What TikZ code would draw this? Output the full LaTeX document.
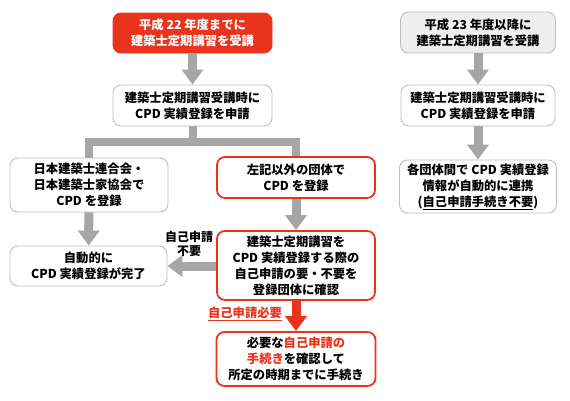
\documentclass[tikz,border=0pt]{standalone}
\usepackage{fontspec}
\setmainfont{Noto Sans CJK JP}[BoldFont={Noto Sans CJK JP Black}]
\usetikzlibrary{arrows.meta}
\definecolor{myred}{RGB}{232,52,28}
\definecolor{arrgray}{RGB}{166,166,166}
\definecolor{boxgray}{RGB}{190,190,190}
\definecolor{fillgray}{RGB}{238,238,238}
\tikzset{
  box/.style={draw=boxgray, line width=0.9pt, rounded corners=8pt, fill=white, align=center,
    font=\fontsize{12.3}{16}\selectfont\bfseries, inner sep=0pt},
  redbox/.style={box, draw=myred, line width=1.8pt},
  redfill/.style={box, draw=myred, fill=myred, text=white},
  grayfill/.style={box, fill=fillgray},
  gline/.style={draw=arrgray, line width=8pt},
  garrow/.style={draw=arrgray, line width=9pt, -{Triangle[width=21pt,length=15pt]}},
  rarrow/.style={draw=myred, line width=9pt, -{Triangle[width=21pt,length=15pt]}},
  lbl/.style={align=center, inner sep=0pt, font=\fontsize{12}{14}\selectfont\bfseries}
}
\begin{document}
\begin{tikzpicture}[x=1pt,y=-1pt]
\useasboundingbox (0,0) rectangle (570,400);
% left column
\node[redfill, minimum width=159pt, minimum height=40pt] (T1) at (192.5,33) {平成 22 年度までに\\建築士定期講習を受講};
\node[box, minimum width=159pt, minimum height=41pt] (T2) at (192.5,105.5) {建築士定期講習受講時に\\CPD 実績登録を申請};
\node[box, minimum width=158pt, minimum height=54pt] (L1) at (89,185) {日本建築士連合会・\\日本建築士家協会で\\CPD を登録};
\node[redbox, minimum width=158pt, minimum height=41pt] (R1) at (296,177.5) {左記以外の団体で\\CPD を登録};
\node[box, minimum width=157pt, minimum height=40pt] (L2) at (88.5,266) {自動的に\\CPD 実績登録が完了};
\node[redbox, minimum width=158pt, minimum height=69pt] (R2) at (296,265.5) {建築士定期講習を\\CPD 実績登録する際の\\自己申請の要・不要を\\登録団体に確認};
\node[redbox, minimum width=159pt, minimum height=54pt] (R3) at (296,359) {必要な\textcolor{myred}{自己申請の}\\\textcolor{myred}{手続き}を確認して\\所定の時期までに手続き};
% right column
\node[grayfill, minimum width=155pt, minimum height=41pt] (RT1) at (478,32.5) {平成 23 年度以降に\\建築士定期講習を受講};
\node[box, minimum width=154pt, minimum height=41pt] (RT2) at (478,105.5) {建築士定期講習受講時に\\CPD 実績登録を申請};
\node[box, minimum width=157pt, minimum height=53pt] (RT3) at (478,186.5) {各団体間で CPD 実績登録\\情報が自動的に連携\\(\underline{自己申請手続き不要})};
% connectors
\draw[garrow] (T1) -- (T2);
\coordinate (j) at (192.5,142);
\draw[gline] (T2.south) -- (j);
\draw[gline, line join=miter] (L1.north) |- (j) -| (R1.north);
\draw[garrow] (L1) -- (L2);
\draw[garrow] (R1) -- (R2);
\draw[garrow] (R2.west |- L2.east) -- (L2.east);
\draw[rarrow] (R2) -- (R3);
\draw[garrow] (RT1) -- (RT2);
\draw[garrow] (RT2) -- (RT3);
% labels
\node[lbl] (n1) at (189,244) {自己申請\\不要};
\node[lbl, text=myred, font=\fontsize{12.3}{14}\selectfont\bfseries] (n2) at (245,314) {\underline{自己申請必要}};
\end{tikzpicture}
\end{document}
